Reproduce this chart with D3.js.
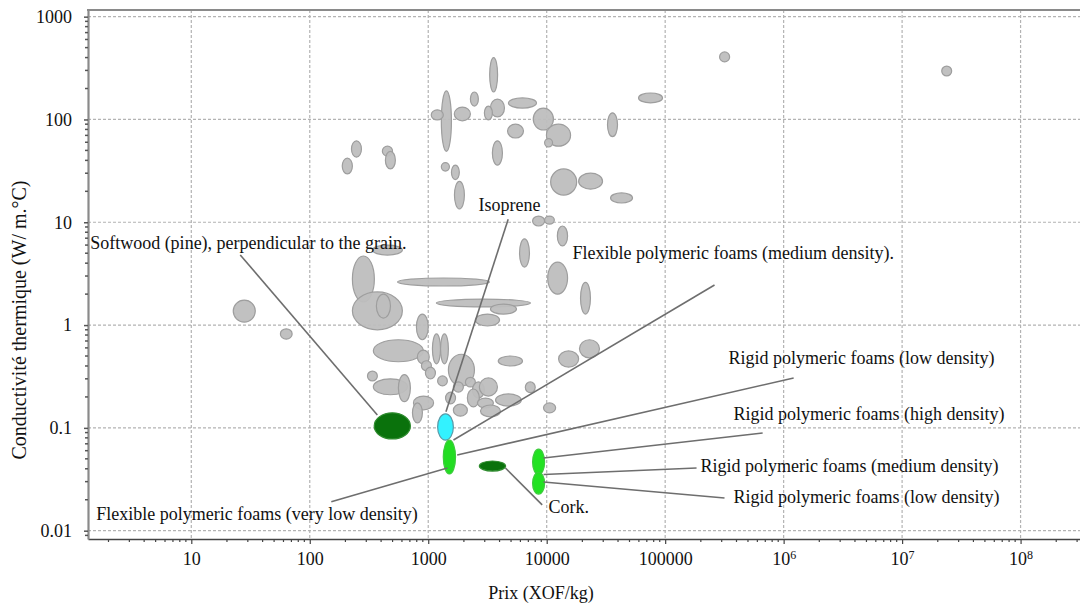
<!DOCTYPE html>
<html>
<head>
<meta charset="utf-8">
<script src="https://cdn.jsdelivr.net/npm/d3@7"></script>
<style>
  body { margin: 0; background: #fff; }
  svg { display: block; font-family: "Liberation Serif", "Times New Roman", serif; }
</style>
</head>
<body>
<div id="chart"></div>
<script>
// Tick values and labels
const xTicks = [10, 100, 1000, 10000, 100000, 1e6, 1e7, 1e8];
const xTickLabels = ["10", "100", "1000", "10000", "100000", "10^6", "10^7", "10^8"];
const yTicks = [0.01, 0.1, 1, 10, 100, 1000];
const yTickLabels = ["0.01", "0.1", "1", "10", "100", "1000"];

// Grey material families: [price low, price high, conductivity low, conductivity high]
const greyMaterials = [
    [3300, 3850, 185, 400], [2270, 2650, 135, 185], [4750, 8200, 129, 162],
    [3350, 4400, 106, 158], [2980, 3480, 99, 135], [1290, 1570, 49, 190],
    [1060, 1340, 99, 124], [1660, 2270, 97, 132], [4670, 6370, 66, 90],
    [7700, 11400, 79, 129], [9950, 15900, 55, 90], [9600, 11200, 54, 65],
    [3480, 4230, 36, 62], [1290, 1510, 31.5, 38], [1570, 1830, 26, 36],
    [1665, 2020, 13.5, 25], [10800, 17900, 18.4, 33], [18600, 29600, 21, 30],
    [34600, 53000, 15.4, 19.3], [32600, 39600, 68, 116], [59600, 95000, 145, 181],
    [288000, 350000, 363, 454], [2.16e7, 2.62e7, 265, 331],
    [225, 273, 43, 62], [188, 229, 29.5, 42], [410, 500, 44, 55], [435, 528, 33, 49],
    [22.6, 34.7, 1.07, 1.75], [56.5, 71, 0.73, 0.92],
    [229, 351, 1.68, 4.7], [229, 605, 0.9, 2.1], [365, 480, 1.17, 2.0],
    [550, 3290, 2.4, 2.87], [1170, 7300, 1.5, 1.79], [3350, 5560, 1.28, 1.6],
    [2500, 4000, 0.98, 1.28], [795, 1000, 0.72, 1.28],
    [1085, 1270, 0.42, 0.82], [1270, 1480, 0.42, 0.82], [344, 910, 0.44, 0.72],
    [810, 1020, 0.42, 0.57], [876, 1064, 0.36, 0.45], [947, 1150, 0.3, 0.39],
    [307, 372, 0.286, 0.357], [344, 667, 0.21, 0.3], [560, 707, 0.18, 0.33],
    [1480, 2455, 0.256, 0.52], [1200, 1450, 0.256, 0.32], [3900, 6250, 0.4, 0.5],
    [6600, 8000, 0.22, 0.28], [9400, 11900, 0.14, 0.175],
    [12600, 18600, 0.39, 0.56], [18900, 27900, 0.48, 0.72],
    [1630, 1980, 0.223, 0.28], [2060, 2500, 0.25, 0.31], [2360, 2980, 0.195, 0.28],
    [2700, 3840, 0.204, 0.306], [2140, 2700, 0.16, 0.239], [2600, 3550, 0.156, 0.195],
    [3700, 6100, 0.163, 0.214], [750, 1110, 0.15, 0.204], [736, 893, 0.112, 0.175],
    [1630, 2140, 0.13, 0.17], [1400, 1700, 0.171, 0.223], [2760, 4070, 0.128, 0.167],
    [338, 605, 4.8, 6.0], [7600, 9600, 9.2, 11.5], [9600, 11600, 9.6, 11.5],
    [12300, 15000, 5.9, 9.2], [5900, 7150, 3.67, 6.9], [10200, 15000, 2.0, 4.1],
    [19300, 23400, 1.28, 2.6]
];

// Highlighted materials
const highlightNames = ["Softwood", "Isoprene", "Flexible foam VLD", "Cork", "Rigid foam A", "Rigid foam B"];
const highlightRanges = [
    [350, 707, 0.078, 0.14],
    [1200, 1630, 0.076, 0.137],
    [1340, 1700, 0.0356, 0.076],
    [2700, 4500, 0.038, 0.0476],
    [7600, 9600, 0.035, 0.062],
    [7600, 9600, 0.0227, 0.037]
];

// Annotation texts
const noteTexts = [
    "Softwood (pine), perpendicular to the grain.",
    "Isoprene",
    "Flexible polymeric foams (medium density).",
    "Rigid polymeric foams (low density)",
    "Rigid polymeric foams (high density)",
    "Rigid polymeric foams (medium density)",
    "Rigid polymeric foams (low density)",
    "Cork.",
    "Flexible polymeric foams (very low density)"
];

const W = 1080, H = 605;
const plotLeft = 88, plotRight = 1082, plotTop = 10, plotBottom = 539;
const serif = "'Liberation Serif', 'Times New Roman', serif";

const svg = d3.select("#chart")
    .append("svg")
    .attr("width", W)
    .attr("height", H)
    .attr("font-family", serif);

// log scales
const xScale = d3.scaleLog()
    .domain([1.343, 3.3e8])
    .range([plotLeft, plotRight]);

const yScale = d3.scaleLog()
    .domain([0.0083, 1161])
    .range([plotBottom, plotTop]);

// grid
svg.append("g")
    .selectAll("line")
    .data(xTicks)
    .join("line")
    .attr("x1", d => xScale(d)).attr("x2", d => xScale(d))
    .attr("y1", plotTop).attr("y2", plotBottom)
    .attr("stroke", "#b3b3b3")
    .attr("stroke-width", 1.2)
    .attr("stroke-dasharray", "3,2");

svg.append("g")
    .selectAll("line")
    .data(yTicks)
    .join("line")
    .attr("x1", plotLeft).attr("x2", plotRight)
    .attr("y1", d => yScale(d)).attr("y2", d => yScale(d))
    .attr("stroke", "#b3b3b3")
    .attr("stroke-width", 1.2)
    .attr("stroke-dasharray", "3,2");

// minor tick values (2..9 per decade)
const minorX = [];
for (let e = 0; e <= 8; e++) for (let m = 2; m <= 9; m++) {
    const v = m * Math.pow(10, e);
    if (v > 1.343 && v < 3.3e8) minorX.push(v);
}
const minorY = [];
for (let e = -3; e <= 2; e++) for (let m = 2; m <= 9; m++) {
    const v = m * Math.pow(10, e);
    if (v > 0.0083 && v < 1161) minorY.push(v);
}

// x axis
const xAxis = svg.append("g")
    .attr("transform", `translate(0,${plotBottom})`)
    .call(d3.axisBottom(xScale).tickValues(xTicks).tickSize(5).tickSizeOuter(0).tickPadding(8)
        .tickFormat((d, i) => xTickLabels[i]))
    .attr("font-family", serif)
    .attr("font-size", 18);
xAxis.select(".domain").attr("stroke", "#444").attr("stroke-width", 1.6);
xAxis.selectAll(".tick line").attr("stroke", "#444").attr("stroke-width", 1.2);
xAxis.selectAll(".tick text")
    .attr("fill", "#111")
    .each(function (d, i) {
        const lab = xTickLabels[i];
        if (lab.includes("^")) {
            const [base, ex] = lab.split("^");
            const t = d3.select(this).text("");
            t.append("tspan").text(base);
            t.append("tspan").attr("dy", "-0.45em").attr("font-size", 12).text(ex);
        }
    });
xAxis.append("g")
    .selectAll("line")
    .data(minorX)
    .join("line")
    .attr("x1", d => xScale(d)).attr("x2", d => xScale(d))
    .attr("y1", 0).attr("y2", 3)
    .attr("stroke", "#444")
    .attr("stroke-width", 1.2);

// y axis
const yAxis = svg.append("g")
    .attr("transform", `translate(${plotLeft},0)`)
    .call(d3.axisLeft(yScale).tickValues(yTicks).tickSize(4).tickSizeOuter(0).tickPadding(12)
        .tickFormat((d, i) => yTickLabels[i]))
    .attr("font-family", serif)
    .attr("font-size", 18);
yAxis.select(".domain").attr("stroke", "#8a8a8a").attr("stroke-width", 2.2);
yAxis.selectAll(".tick line").attr("stroke", "#555").attr("stroke-width", 1.5);
yAxis.selectAll(".tick text").attr("fill", "#111");
yAxis.append("g")
    .selectAll("line")
    .data(minorY)
    .join("line")
    .attr("x1", -3).attr("x2", 0)
    .attr("y1", d => yScale(d)).attr("y2", d => yScale(d))
    .attr("stroke", "#555")
    .attr("stroke-width", 1.5);

// top frame
svg.append("line")
    .attr("x1", plotLeft - 1).attr("x2", plotRight)
    .attr("y1", plotTop).attr("y2", plotTop)
    .attr("stroke", "#8a8a8a")
    .attr("stroke-width", 2.2);

// ellipse helper from data ranges
function ellipseAttrs(sel) {
    sel.attr("cx", d => (xScale(d[0]) + xScale(d[1])) / 2)
        .attr("cy", d => (yScale(d[2]) + yScale(d[3])) / 2)
        .attr("rx", d => (xScale(d[1]) - xScale(d[0])) / 2)
        .attr("ry", d => (yScale(d[2]) - yScale(d[3])) / 2);
}

// grey bubbles
svg.append("g")
    .selectAll("ellipse")
    .data(greyMaterials)
    .join("ellipse")
    .call(ellipseAttrs)
    .attr("fill", "#bebebe")
    .attr("fill-opacity", 0.95)
    .attr("stroke", "#9e9e9e")
    .attr("stroke-width", 1.2);

// highlighted bubbles
const highlightFill = ["#0a720c", "#33f2ff", "#22dd22", "#0a720c", "#22e222", "#22e222"];
const highlightStroke = ["#2e8b2e", "#5a9aa8", "#3ccc3c", "#2e8b2e", "#3ccc3c", "#3ccc3c"];
svg.append("g")
    .selectAll("ellipse")
    .data(highlightRanges)
    .join("ellipse")
    .call(ellipseAttrs)
    .attr("fill", (d, i) => highlightFill[i])
    .attr("stroke", (d, i) => highlightStroke[i])
    .attr("stroke-width", 1.2);

// annotation layout in data units: text anchor, leader line start, leader line end
const notePos = [
    [1.40, 5.5], [2655, 12.9], [16500, 4.39], [343000, 0.418], [378000, 0.1194],
    [199000, 0.0372], [378000, 0.0186], [10350, 0.01486], [1.576, 0.0127]
];
const noteLines = [
    [[25.9, 4.81], [372, 0.1334]],
    [[4730, 10.7], [1411, 0.1437]],
    [[261000, 2.455], [1633, 0.0762]],
    [[1.215e6, 0.3057], [1755, 0.0545]],
    [[665000, 0.0891], [9400, 0.0509]],
    [[184000, 0.0407], [9400, 0.0352]],
    [[317000, 0.0208], [9400, 0.0298]],
    [[4487, 0.0407], [9160, 0.0178]],
    [[152, 0.0191], [1452, 0.0407]]
];

svg.append("g")
    .selectAll("line")
    .data(noteLines)
    .join("line")
    .attr("x1", d => xScale(d[0][0])).attr("y1", d => yScale(d[0][1]))
    .attr("x2", d => xScale(d[1][0])).attr("y2", d => yScale(d[1][1]))
    .attr("stroke", "#6e6e6e")
    .attr("stroke-width", 1.6);

svg.append("g")
    .selectAll("text")
    .data(noteTexts)
    .join("text")
    .attr("x", (d, i) => xScale(notePos[i][0]))
    .attr("y", (d, i) => yScale(notePos[i][1]))
    .attr("font-size", 18)
    .attr("fill", "#111")
    .text(d => d);

// axis titles
svg.append("text")
    .attr("x", 541)
    .attr("y", 599)
    .attr("text-anchor", "middle")
    .attr("font-size", 18)
    .attr("fill", "#111")
    .text("Prix (XOF/kg)");

svg.append("text")
    .attr("transform", "translate(26,320) rotate(-90)")
    .attr("text-anchor", "middle")
    .attr("font-size", 20)
    .attr("fill", "#111")
    .text("Conductivité thermique (W/ m.°C)");
</script>
</body>
</html>
